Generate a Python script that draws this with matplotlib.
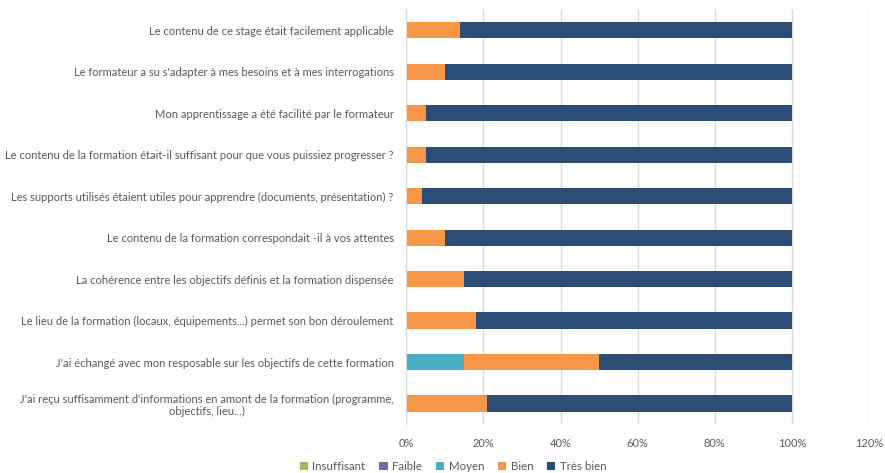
"""Stacked horizontal bar chart of training satisfaction survey."""

import numpy as np
import matplotlib
matplotlib.use("Agg")
import matplotlib.pyplot as plt
from matplotlib.ticker import PercentFormatter

plt.rcParams['font.family'] = ['Lato', 'DejaVu Sans']

questions = [
    "Le contenu de ce stage était facilement applicable",
    "Le formateur a su s'adapter à mes besoins et à mes interrogations",
    "Mon apprentissage a été facilité par le formateur",
    "Le contenu de la formation était-il suffisant pour que vous puissiez progresser ?",
    "Les supports utilisés étaient utiles pour apprendre (documents, présentation) ?",
    "Le contenu de la formation correspondait -il à vos attentes",
    "La cohérence entre les objectifs définis et la formation dispensée",
    "Le lieu de la formation (locaux, équipements...) permet son bon déroulement",
    "J'ai échangé avec mon resposable sur les objectifs de cette formation",
    "J'ai reçu suffisamment d'informations en amont de la formation (programme,\nobjectifs, lieu...)",
]

insuffisant = [0, 0, 0, 0, 0, 0, 0, 0, 0, 0]
faible = [0, 0, 0, 0, 0, 0, 0, 0, 0, 0]
moyen = [0, 0, 0, 0, 0, 0, 0, 0, 0.15, 0]
bien = [0.14, 0.10, 0.05, 0.05, 0.04, 0.10, 0.15, 0.18, 0.35, 0.21]
tres_bien = [0.86, 0.90, 0.95, 0.95, 0.96, 0.90, 0.85, 0.82, 0.50, 0.79]

series = [
    ("Insuffisant", insuffisant, "#9BBB59"),
    ("Faible", faible, "#8064A2"),
    ("Moyen", moyen, "#4BACC6"),
    ("Bien", bien, "#F79646"),
    ("Très bien", tres_bien, "#2C4D75"),
]

fig = plt.figure(figsize=(8.85, 4.73), dpi=100)
ax = fig.add_axes([0.459, 0.103, 0.523, 0.877])

y = np.arange(len(questions))
left = np.zeros(len(questions))
for name, vals, color in series:
    ax.barh(y, vals, left=left, height=0.39, color=color, label=name)
    left += np.array(vals)

ax.set_yticks(y)
ax.set_yticklabels(questions, multialignment="center")
ax.set_ylim(len(questions) - 0.5, -0.5)
ax.set_xlim(0, 1.2)
ax.set_xticks(np.arange(0, 1.21, 0.2))
ax.xaxis.set_major_formatter(PercentFormatter(1.0, decimals=0))

ax.grid(axis="x", color="#D9D9D9", linewidth=1)
ax.set_axisbelow(True)
for s in ["top", "right", "bottom"]:
    ax.spines[s].set_visible(False)
ax.spines["left"].set_color("#D9D9D9")
ax.tick_params(axis="both", length=0, labelsize=8, labelcolor="#595959")
ax.tick_params(axis="y", pad=9)
ax.tick_params(axis="x", pad=10)

ax.legend(loc="lower center", bbox_to_anchor=(0.512, -0.01), bbox_transform=fig.transFigure,
          ncol=5, frameon=False, fontsize=8.3, labelcolor="#595959",
          handlelength=0.7, handleheight=0.7, handletextpad=0.4, columnspacing=1.2,
          borderaxespad=0.1)

fig.savefig("out.png", dpi=100)
